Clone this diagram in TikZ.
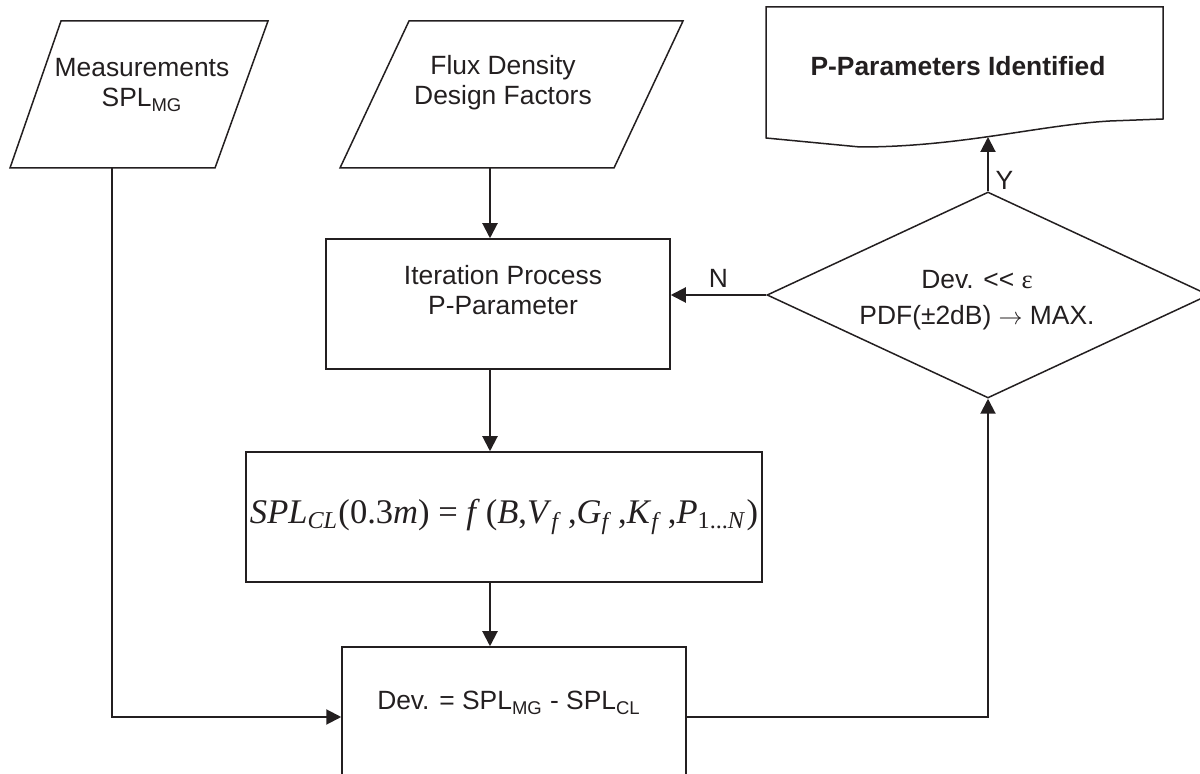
\documentclass[tikz,border=0pt]{standalone}
\usepackage{fontspec}
\setmainfont{Liberation Sans}
\newfontfamily\tms{Liberation Serif}
\usepackage{graphicx}
\usetikzlibrary{arrows.meta,positioning,shapes.geometric}
\definecolor{ink}{HTML}{231F20}
\newcommand\vi[1]{\textit{#1}}
\newcommand\vsub[2]{\textit{#1}\textsubscript{\textit{#2}}}

\begin{document}
\begin{tikzpicture}[x=0.5pt,y=-0.5pt,>={Triangle[length=7.5pt,width=7.5pt]},
    every node/.style={font=\fontsize{13.2}{15}\selectfont,text=ink,align=center},
    box/.style={draw=ink,line width=0.75pt,rectangle,inner sep=0pt},
    outline/.style={draw=ink,line width=0.75pt},
    flow/.style={->,draw=ink,line width=1pt}]

    \useasboundingbox (0,0) rectangle (1200,774);

    % Input: measurements
    \draw [outline] (61,21) -- (268,21) -- (215,168) -- (10,168) -- cycle;
    \node (meas) at (142,85) {Measurements\\SPL\textsubscript{MG}};
    \coordinate (meas-out) at (112,168);

    % Input: design factors
    \draw [outline] (409,21) -- (683,21) -- (614,168) -- (340,168) -- cycle;
    \node (flux) at (503,83) {Flux Density\\Design Factors};
    \coordinate (flux-out) at (490,168);

    % Iteration of the P-parameters
    \node [box,minimum width=172pt,minimum height=65pt] (iter) at (498,304) {};
    \node (iter-txt) at (503,290) {Iteration Process\\P-Parameter};

    % Model
    \node [box,minimum width=258pt,minimum height=65pt] (model) at (504,517)
        {\resizebox{254pt}{!}{\tms\vsub{SPL}{CL}(0.3\vi{m}) = \vi{f}\,(\vi{B},\vsub{V}{f}\,,\vsub{G}{f}\,,\vsub{K}{f}\,,\textit{P}\textsubscript{1...\textit{N}})}};

    % Deviation
    \node [box,minimum width=172pt,minimum height=70pt] (dev) at (514,717) {};
    \node (dev-txt) at (509,703) {Dev. = SPL\textsubscript{MG} - SPL\textsubscript{CL}};

    % Decision
    \node [diamond,outline,minimum width=221pt,minimum height=103pt,inner sep=0pt] (check) at (988,295) {};
    \node (check-txt) at (977,300) {Dev. {<}{<} {\tms ε}\\[3pt]PDF(±2dB) $\rightarrow$ MAX.};

    % Result
    \draw [outline] (766,7) -- (1163,7) -- (1163,119) -- (1110,121)
        .. controls (1040,125) and (960,147) .. (860,147) -- (766,138) -- cycle;
    \node (done) at (958,66) {\bfseries P-Parameters Identified};
    \coordinate (done-in) at (988,137);

    % Connectors
    \draw [flow] (meas-out) |- (dev.west);
    \draw [flow] (flux-out) -- (flux-out |- iter.north);
    \draw [flow] (iter.south -| flux-out) -- (flux-out |- model.north);
    \draw [flow] (model.south -| flux-out) -- (flux-out |- dev.north);
    \draw [flow] (dev.east) -| (check.south);
    \draw [flow] (check.west) -- (check.west -| iter.east) node [midway,above] {N};
    \draw [flow] (check.north) -- (done-in) node [pos=0.2,right] {Y};

\end{tikzpicture}
\end{document}
